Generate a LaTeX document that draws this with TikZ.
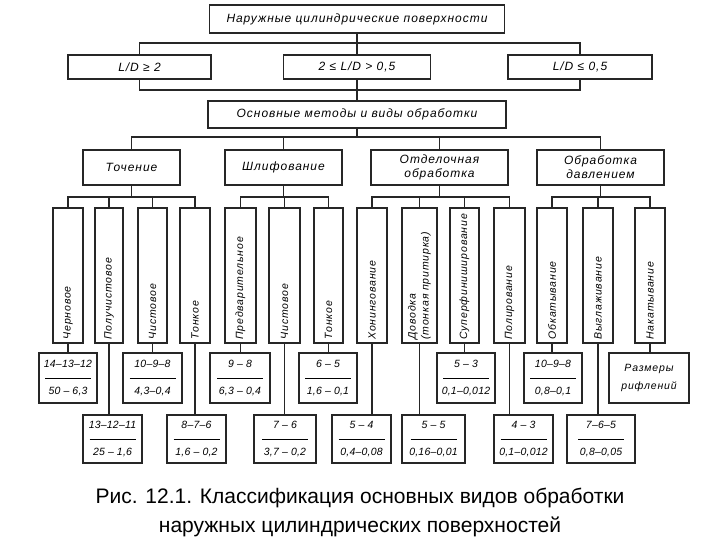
\documentclass[tikz,border=0pt]{standalone}
\usepackage{fontspec}
\setmainfont{Liberation Sans}
\newfontfamily\drw{Liberation Sans}[LetterSpace=8.0]
\newfontfamily\num{Liberation Sans}[LetterSpace=2.0]
\newcommand{\grd}[2]{#1\\[-2pt]\rule{46pt}{1.2pt}\\[1pt]#2}

\begin{document}
\begin{tikzpicture}[x=1pt,y=-1pt]
  \tikzstyle{every node}=[draw=black!85,line width=1.4pt,inner sep=2pt,align=center,font=\drw\itshape\fontsize{12}{14}\selectfont]
  \tikzstyle{vbox}=[rotate=90,minimum width=135pt,text width=128pt,align=left,inner sep=3.5pt,font=\drw\itshape\fontsize{10.5}{13}\selectfont]
  \tikzstyle{grade}=[font=\num\itshape\fontsize{10.5}{14}\selectfont]
  \tikzstyle{wire}=[line width=1.4pt,draw=black!85]
  \useasboundingbox (0,0) rectangle (720,540);

  \node[minimum width=295pt,minimum height=28pt] (top) at (357,19) {Наружные цилиндрические поверхности};
  \node[minimum width=143pt,minimum height=24pt] (lda) at (139.5,67) {L/D ≥ 2};
  \node[minimum width=147pt,minimum height=24pt] (ldb) at (357,67) {2 ≤ L/D > 0,5};
  \node[minimum width=144pt,minimum height=24pt] (ldc) at (580,67) {L/D ≤ 0,5};
  \node[minimum width=298pt,minimum height=27pt] (meth) at (357,114.5) {Основные методы и виды обработки};

  \node[minimum width=97pt,minimum height=35pt] (tok) at (131.5,167.5) {Точение};
  \node[minimum width=117pt,minimum height=35pt] (shl) at (283.5,167.5) {Шлифование};
  \node[minimum width=137pt,minimum height=35pt] (otd) at (439.5,167.5) {Отделочная\\обработка};
  \node[minimum width=127pt,minimum height=35pt] (dav) at (600.5,167.5) {Обработка\\давлением};

  \coordinate (j1) at (357,43);
  \coordinate (j2) at (357,90);
  \coordinate (j3) at (357,137);
  \draw[wire] (top) -- (ldb);
  \draw[wire] (lda.north) |- (j1) -| (ldc.north);
  \draw[wire] (lda.south) |- (j2) -| (ldc.south);
  \draw[wire] (ldb) -- (meth);
  \draw[wire] (meth) -- (j3);
  \draw[wire] (tok.north) |- (j3) -| (dav.north);
  \draw[wire] (shl.north) -- (shl.north |- j3);
  \draw[wire] (otd.north) -- (otd.north |- j3);

  \foreach \n/\x/\w/\t in {1/68/30/Черновое, 2/109/28/Получистовое, 3/152.5/29/Чистовое,
      4/195/30/Тонкое, 5/240.5/31/Предварительное, 6/284.5/31/Чистовое, 7/328.5/29/Тонкое,
      8/372/30/Хонингование, 9/419.5/35/{Доводка\\(тонкая притирка)}, 10/464.5/29/Суперфиниширование,
      11/509.5/31/Полирование, 12/552/30/Обкатывание, 13/598/30/Выглаживание, 14/650/30/Накатывание}
    \node[vbox,minimum height=\w pt] (v\n) at (\x,275.5) {\t};

  \coordinate (k1) at (131.5,197);
  \coordinate (k2) at (283.5,197);
  \coordinate (k3) at (439.5,197);
  \coordinate (k4) at (600.5,197);
  \draw[wire] (tok) -- (k1);
  \draw[wire] (shl) -- (k2);
  \draw[wire] (otd) -- (k3);
  \draw[wire] (dav) -- (k4);
  \draw[wire] (v1.east) |- (k1) -| (v4.east);
  \draw[wire] (v5.east) |- (k2) -| (v7.east);
  \draw[wire] (v8.east) |- (k3) -| (v11.east);
  \draw[wire] (v12.east) |- (k4) -| (v14.east);
  \foreach \n in {2,3,6,9,10,13}
    \draw[wire] (v\n.east) -- (v\n.east |- k1);

  \node[grade,minimum width=58pt,minimum height=50pt] (g1) at (68,378) {\grd{14–13–12}{50 – 6,3}};
  \node[grade,minimum width=59pt,minimum height=50pt] (g3) at (152.5,378) {\grd{10–9–8}{4,3–0,4}};
  \node[grade,minimum width=60pt,minimum height=50pt] (g5) at (240,378) {\grd{9 – 8}{6,3 – 0,4}};
  \node[grade,minimum width=58pt,minimum height=50pt] (g7) at (328,378) {\grd{6 – 5}{1,6 – 0,1}};
  \node[grade,minimum width=58pt,minimum height=50pt] (g10) at (466,378) {\grd{5 – 3}{0,1–0,012}};
  \node[grade,minimum width=58pt,minimum height=50pt] (g12) at (553,378) {\grd{10–9–8}{0,8–0,1}};
  \node[grade,minimum width=80pt,minimum height=50pt,font=\drw\itshape\fontsize{10.5}{18}\selectfont] (g14) at (649,378) {Размеры\\рифлений};
  \node[grade,minimum width=59pt,minimum height=48pt] (g2) at (112.5,439) {\grd{13–12–11}{25 – 1,6}};
  \node[grade,minimum width=59pt,minimum height=48pt] (g4) at (196.5,439) {\grd{8–7–6}{1,6 – 0,2}};
  \node[grade,minimum width=62pt,minimum height=48pt] (g6) at (285,439) {\grd{7 – 6}{3,7 – 0,2}};
  \node[grade,minimum width=59pt,minimum height=48pt] (g8) at (361.5,439) {\grd{5 – 4}{0,4–0,08}};
  \node[grade,minimum width=63pt,minimum height=48pt] (g9) at (433.5,439) {\grd{5 – 5}{0,16–0,01}};
  \node[grade,minimum width=59pt,minimum height=48pt] (g11) at (523.5,439) {\grd{4 – 3}{0,1–0,012}};
  \node[grade,minimum width=68pt,minimum height=48pt] (g13) at (601,439) {\grd{7–6–5}{0,8–0,05}};
  \foreach \n in {1,...,14}
    \draw[wire] (v\n.west) -- (v\n.west |- g\n.north);

  \node[draw=none,font=\fontsize{21}{29}\selectfont] (cap) at (360,512) {Рис. 12.1. Классификация основных видов обработки\\наружных цилиндрических поверхностей};
\end{tikzpicture}
\end{document}
